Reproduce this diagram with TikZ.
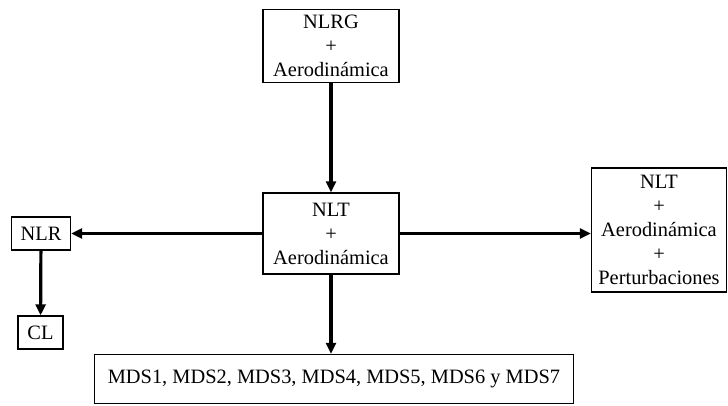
\documentclass[tikz,border=0pt]{standalone}
\usepackage{fontspec}
\setmainfont{Liberation Serif}
\usetikzlibrary{arrows.meta}
\begin{document}
\begin{tikzpicture}[x=1pt,y=-1pt,
  box/.style={draw, line width=1.4pt, align=center, inner sep=0pt,
    font=\fontsize{20.4}{24}\selectfont},
  conn/.style={line width=3.2pt, -{Triangle[length=11pt,width=10pt]}}]
\useasboundingbox (0,0) rectangle (728,405);
\node[box, minimum width=136pt, minimum height=73pt] (nlrg) at (331,46) {NLRG\\+\\Aerodinámica};
\node[box, minimum width=136pt, minimum height=81pt] (nlt) at (331,233.5) {NLT\\+\\Aerodinámica};
\node[box, minimum width=59pt, minimum height=33pt] (nlr) at (41,233.5) {NLR};
\node[box, minimum width=45pt, minimum height=33pt] (cl) at (40.5,332.5) {CL};
\node[box, minimum width=135pt, minimum height=124pt] (per) at (659,230) {NLT\\+\\Aerodinámica\\+\\Perturbaciones};
\node[box, minimum width=479pt, minimum height=49pt] (mds) at (334,379) {MDS1, MDS2, MDS3, MDS4, MDS5, MDS6 y MDS7};
\draw[conn] (nlrg) -- (nlt);
\draw[conn] (nlt) -- (nlr);
\draw[conn] (nlt.east) -- (nlt.east -| per.west);
\draw[conn] (nlr) -- (cl);
\draw[conn] (nlt.south) -- (nlt.south |- mds.north);
\end{tikzpicture}
\end{document}
